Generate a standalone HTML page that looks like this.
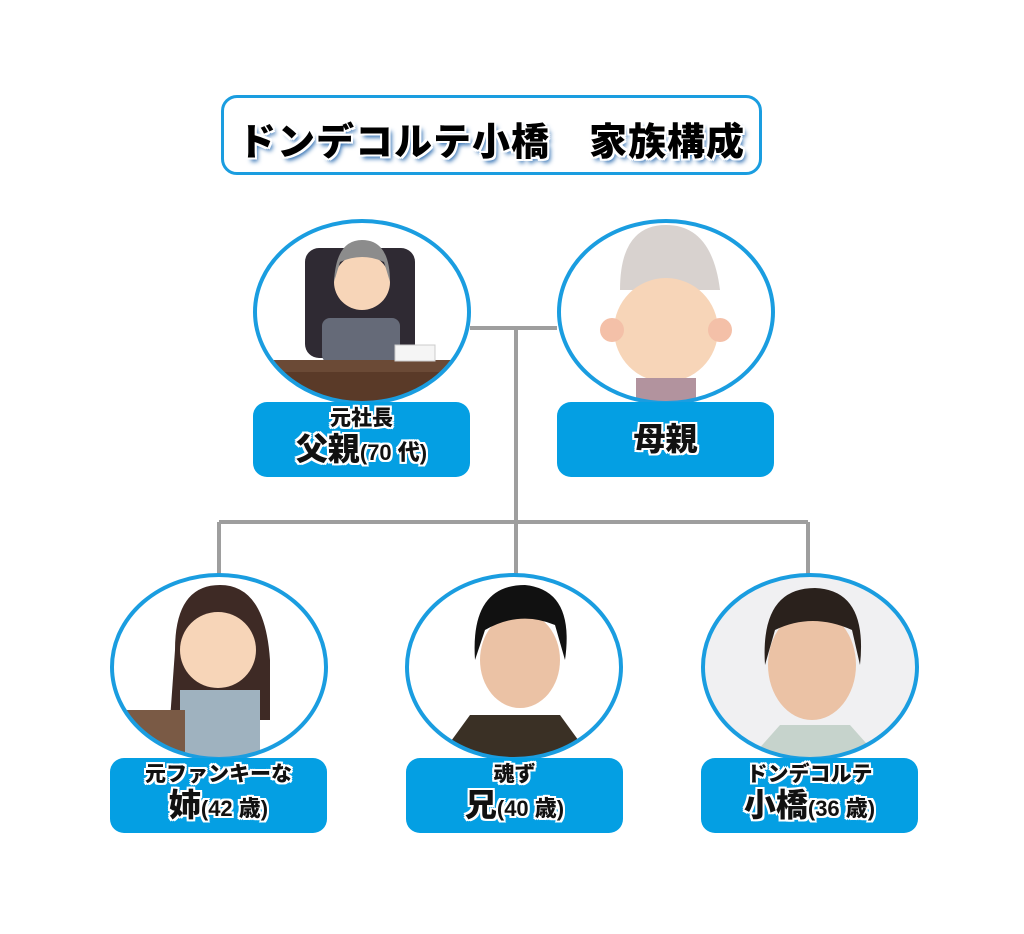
<!DOCTYPE html>
<html><head><meta charset="utf-8"><style>
body{margin:0;width:1024px;height:934px;background:#fff;position:relative;overflow:hidden;font-family:"Liberation Sans","Noto Sans CJK JP",sans-serif;}
.title{position:absolute;left:221px;top:95px;width:535px;height:74px;border:3.5px solid #1a9de0;border-radius:16px;background:#fff;}
.title span{position:absolute;left:0;right:0;top:13px;text-align:center;font-size:38px;font-weight:900;color:#000;letter-spacing:1px;
text-shadow:-2px -2px 0 #fff,2px -2px 0 #fff,-2px 2px 0 #fff,2px 2px 0 #fff,0 2px 0 #fff,2px 0 0 #fff,0 -2px 0 #fff,-2px 0 0 #fff,3px 4px 5px #2a6bb0;}
.lbl{position:absolute;width:217px;height:75px;background:#049fe3;border-radius:14px;text-align:center;color:#111;font-weight:900;
text-shadow:-2px -2px 0 #fff,2px -2px 0 #fff,-2px 2px 0 #fff,2px 2px 0 #fff,0 2px 0 #fff,2px 0 0 #fff,0 -2px 0 #fff,-2px 0 0 #fff;}
.l1{font-size:21px;line-height:22px;margin-top:6px;}
.l2{font-size:32px;line-height:38px;}
.l2 small{font-size:22px;}
svg{position:absolute;left:0;top:0;}
</style></head><body>
<svg width="1024" height="934">
<defs>
<clipPath id="c1"><ellipse cx="362" cy="312" rx="107" ry="91"/></clipPath>
<clipPath id="c2"><ellipse cx="666" cy="312" rx="107" ry="91"/></clipPath>
<clipPath id="c3"><ellipse cx="219" cy="667" rx="107" ry="92"/></clipPath>
<clipPath id="c4"><ellipse cx="514" cy="667" rx="107" ry="92"/></clipPath>
<clipPath id="c5"><ellipse cx="810" cy="667" rx="107" ry="92"/></clipPath>
</defs>
<g stroke="#9e9e9e" stroke-width="4" fill="none">
<path d="M470 328H557M516 328V522M219 522H808M219 522V575M516 522V575M808 522V575"/>
</g>
<g fill="#fff">
<ellipse cx="362" cy="312" rx="107" ry="91"/>
<ellipse cx="666" cy="312" rx="107" ry="91"/>
<ellipse cx="219" cy="667" rx="107" ry="92"/>
<ellipse cx="514" cy="667" rx="107" ry="92"/>
<ellipse cx="810" cy="667" rx="107" ry="92" fill="#f0f0f2"/>
</g>
<g clip-path="url(#c1)">
<rect x="305" y="248" width="110" height="110" rx="14" fill="#2f2a33"/>
<rect x="322" y="318" width="78" height="45" rx="8" fill="#656a78"/>
<circle cx="362" cy="282" r="28" fill="#f7d5b8"/>
<path d="M334 282Q336 240 362 240Q390 240 390 282L384 262Q362 252 340 262Z" fill="#8c8c8c"/>
<rect x="272" y="360" width="180" height="12" fill="#6b4a36"/>
<rect x="280" y="372" width="165" height="40" fill="#5a3a28"/>
<rect x="395" y="345" width="40" height="16" fill="#f5f5f5" stroke="#ccc"/>
</g>
<g clip-path="url(#c2)">
<path d="M620 290Q620 225 666 225Q712 225 720 290Z" fill="#d8d2cf"/>
<circle cx="666" cy="330" r="52" fill="#f7d5b8"/>
<circle cx="612" cy="330" r="12" fill="#f4c0a8"/><circle cx="720" cy="330" r="12" fill="#f4c0a8"/>
<rect x="636" y="378" width="60" height="34" fill="#b2939e"/>
</g>
<g clip-path="url(#c3)">
<path d="M175 650Q175 585 220 585Q265 585 270 660L270 720L170 720Z" fill="#3e2a25"/>
<circle cx="218" cy="650" r="38" fill="#f7d5b8"/>
<rect x="180" y="690" width="80" height="78" fill="#9fb2bf"/>
<rect x="125" y="710" width="60" height="58" fill="#7a5a45"/>
</g>
<g clip-path="url(#c4)">
<path d="M430 770L470 715L560 715L600 770Z" fill="#3a3025"/>
<ellipse cx="520" cy="660" rx="40" ry="48" fill="#ebc2a5"/>
<path d="M475 660Q470 585 525 585Q575 590 565 660L555 625Q520 610 485 630Z" fill="#111"/>
</g>
<g clip-path="url(#c5)">
<path d="M740 770L780 725L850 725L890 770Z" fill="#c6d3cc"/>
<ellipse cx="812" cy="665" rx="44" ry="55" fill="#ebc2a5"/>
<path d="M765 665Q760 588 815 588Q868 590 860 665L852 630Q812 612 775 630Z" fill="#2a211c"/>
</g>
<g stroke="#1a9de0" stroke-width="4" fill="none">
<ellipse cx="362" cy="312" rx="107" ry="91"/>
<ellipse cx="666" cy="312" rx="107" ry="91"/>
<ellipse cx="219" cy="667" rx="107" ry="92"/>
<ellipse cx="514" cy="667" rx="107" ry="92"/>
<ellipse cx="810" cy="667" rx="107" ry="92"/>
</g>
</svg>
<div class="title"><span>ドンデコルテ小橋　家族構成</span></div>
<div class="lbl" style="left:253px;top:402px"><div class="l1">元社長</div><div class="l2">父親<small>(70 代)</small></div></div>
<div class="lbl" style="left:557px;top:402px"><div class="l2" style="margin-top:18px">母親</div></div>
<div class="lbl" style="left:110px;top:758px"><div class="l1">元ファンキーな</div><div class="l2">姉<small>(42 歳)</small></div></div>
<div class="lbl" style="left:406px;top:758px"><div class="l1">魂ず</div><div class="l2">兄<small>(40 歳)</small></div></div>
<div class="lbl" style="left:701px;top:758px"><div class="l1">ドンデコルテ</div><div class="l2">小橋<small>(36 歳)</small></div></div>
</body></html>
